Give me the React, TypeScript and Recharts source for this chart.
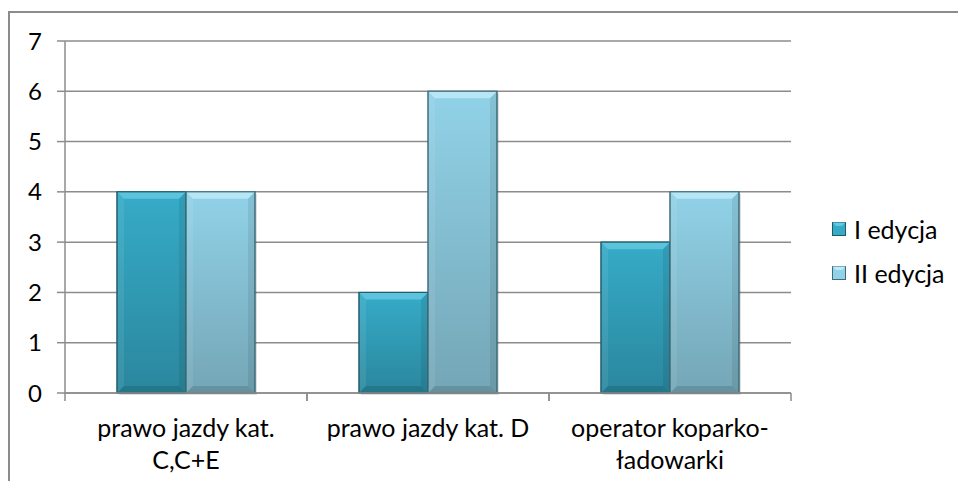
import React from 'react';
import { BarChart, Bar, XAxis, YAxis, CartesianGrid } from 'recharts';

const categories = ['prawo jazdy kat. C,C+E', 'prawo jazdy kat. D', 'operator koparko-ładowarki'];
const tickLines = [['prawo jazdy kat.', 'C,C+E'], ['prawo jazdy kat. D'], ['operator koparko-', 'ładowarki']];
const edycja1 = [4, 2, 3];
const edycja2 = [4, 6, 4];
const yTicks = [0, 1, 2, 3, 4, 5, 6, 7];
const seriesNames = ['I edycja', 'II edycja'];

const data = categories.map((c, i) => ({ name: c, e1: edycja1[i], e2: edycja2[i] }));

const FONT = 'Lato, "Open Sans", sans-serif';

const palettes = {
  e1: { top: '#36abc8', bottom: '#2a879d', bevel: '#63c8e0', edge: '#1d5b6b' },
  e2: { top: '#91d2e8', bottom: '#74a6b6', bevel: '#bdeaf7', edge: '#3f6c7a' },
};

const BevelBar = (key: 'e1' | 'e2') => (props: any) => {
  const { x, y, width, height } = props;
  if (!height || height <= 0) return null;
  const p = palettes[key];
  const b = 7;
  return (
    <g>
      <rect x={x + 2} y={y + 2} width={width} height={height} fill="rgba(0,0,0,0.12)" />
      <rect x={x} y={y} width={width} height={height} fill={`url(#grad-${key})`} stroke={p.edge} strokeWidth={1} />
      <polygon points={`${x},${y} ${x + width},${y} ${x + width - b},${y + b} ${x + b},${y + b}`} fill={p.bevel} opacity={0.85} />
      <polygon points={`${x},${y} ${x + b},${y + b} ${x + b},${y + height - b} ${x},${y + height}`} fill="rgba(255,255,255,0.08)" />
      <polygon points={`${x + width},${y} ${x + width - b},${y + b} ${x + width - b},${y + height - b} ${x + width},${y + height}`} fill="rgba(0,0,0,0.08)" />
      <polygon points={`${x},${y + height} ${x + b},${y + height - b} ${x + width - b},${y + height - b} ${x + width},${y + height}`} fill="rgba(0,0,0,0.12)" />
      <rect x={x} y={y} width={width} height={height} fill="none" stroke={p.edge} strokeWidth={1} />
    </g>
  );
};

const XTick = (props: any) => {
  const { x, y, payload, index } = props;
  const half = payload && payload.offset ? payload.offset : 121;
  const lines = tickLines[index] || [String(payload.value)];
  return (
    <g>
      <line x1={x - half} y1={y - 8} x2={x - half} y2={y} stroke="#8c8c8c" strokeWidth={1.5} />
      <line x1={x + half} y1={y - 8} x2={x + half} y2={y} stroke="#8c8c8c" strokeWidth={1.5} />
      {lines.map((l: string, i: number) => (
        <text key={i} x={x} y={y + 36 + i * 32} textAnchor="middle" fontFamily={FONT} fontSize={25} fill="#000">
          {l}
        </text>
      ))}
    </g>
  );
};

const LegendBox = () => (
  <div style={{ position: 'absolute', left: 832, top: 207, fontFamily: FONT, fontSize: 25, color: '#000' }}>
    {seriesNames.map((n, i) => (
      <div key={n} style={{ display: 'flex', alignItems: 'center', height: 44 }}>
        <svg width={14} height={14} style={{ marginRight: 8 }}>
          <rect x={0.5} y={0.5} width={13} height={13} fill={i === 0 ? palettes.e1.top : palettes.e2.top} stroke={i === 0 ? palettes.e1.edge : palettes.e2.edge} />
          <polygon points="0.5,0.5 13.5,0.5 10,4 4,4" fill={i === 0 ? palettes.e1.bevel : palettes.e2.bevel} />
        </svg>
        <span>{n}</span>
      </div>
    ))}
  </div>
);

export default function App() {
  return (
    <div style={{ position: 'absolute', left: 0, top: 0, width: 958, height: 481, background: '#fff', overflow: 'hidden' }}>
      <div style={{ position: 'absolute', left: 8, top: 11, width: 960, height: 480, borderLeft: '2px solid #8c8c8c', borderTop: '2px solid #8c8c8c' }} />
      <BarChart
        width={958}
        height={481}
        data={data}
        margin={{ top: 41, right: 167, bottom: 0, left: 9 }}
        barGap={0}
        barSize={69}
        style={{ position: 'absolute', left: 0, top: 0 }}
      >
        <defs>
          <linearGradient id="grad-e1" x1="0" y1="0" x2="0" y2="1">
            <stop offset="0%" stopColor={palettes.e1.top} />
            <stop offset="100%" stopColor={palettes.e1.bottom} />
          </linearGradient>
          <linearGradient id="grad-e2" x1="0" y1="0" x2="0" y2="1">
            <stop offset="0%" stopColor={palettes.e2.top} />
            <stop offset="100%" stopColor={palettes.e2.bottom} />
          </linearGradient>
        </defs>
        <CartesianGrid vertical={false} stroke="#8c8c8c" strokeWidth={1.5} />
        <XAxis
          dataKey="name"
          height={88}
          axisLine={{ stroke: '#8c8c8c', strokeWidth: 1.5 }}
          tickLine={false}
          tick={<XTick />}
          interval={0}
        />
        <YAxis
          width={56}
          domain={[0, 7]}
          ticks={yTicks}
          interval={0}
          axisLine={{ stroke: '#8c8c8c', strokeWidth: 1.5 }}
          tickLine={{ stroke: '#8c8c8c', strokeWidth: 1.5 }}
          tickSize={8}
          tickMargin={15}
          tick={{ fontFamily: FONT, fontSize: 24, fill: '#000' }}
        />
        <Bar dataKey="e1" name={seriesNames[0]} isAnimationActive={false} shape={BevelBar('e1')} />
        <Bar dataKey="e2" name={seriesNames[1]} isAnimationActive={false} shape={BevelBar('e2')} />
      </BarChart>
      <LegendBox />
    </div>
  );
}
